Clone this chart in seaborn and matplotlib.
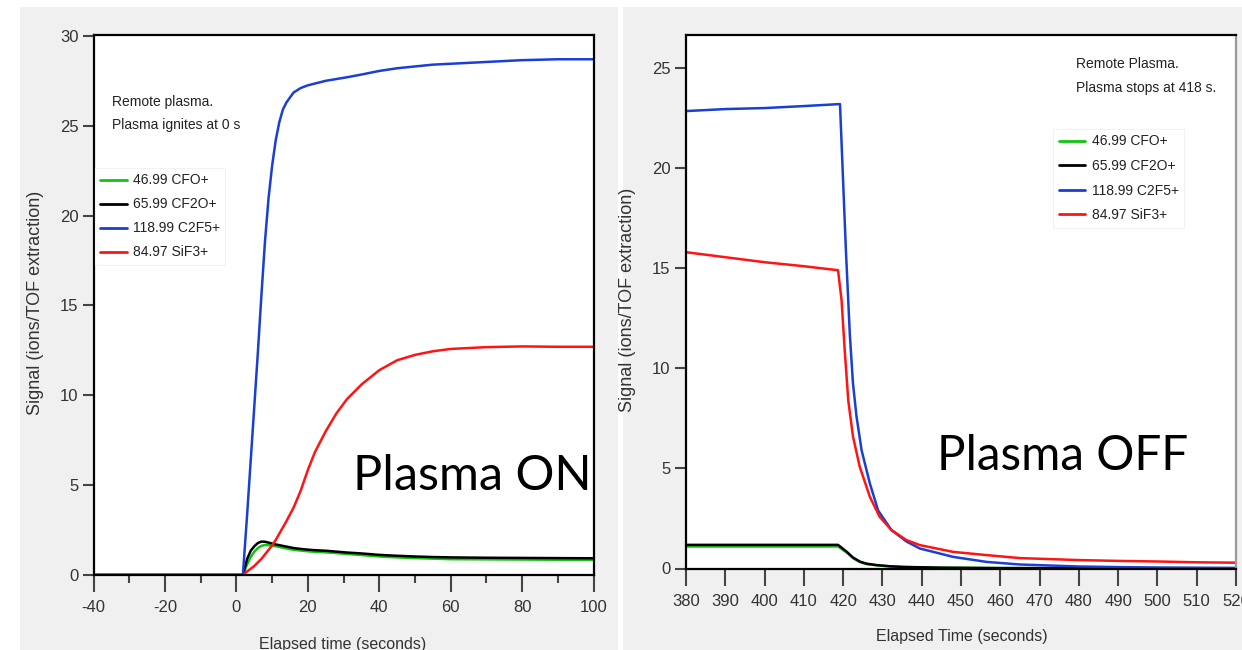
import numpy as np
import pandas as pd
import matplotlib
matplotlib.use("Agg")
import matplotlib.pyplot as plt
from matplotlib.patches import Rectangle
from matplotlib.ticker import MultipleLocator
from matplotlib.lines import Line2D
import seaborn as sns

# ---------------- data ----------------
labels = ["46.99 CFO+", "65.99 CF2O+", "118.99 C2F5+", "84.97 SiF3+"]
colors = ["#12c412", "#000000", "#1a3fd4", "#ff1414"]

# Left panel: plasma ignites at 0 s
t_on = [-40, 0, 1.8, 3, 4, 5, 6, 7, 8, 9, 10, 11, 12, 13, 14, 16, 18, 20, 22,
        25, 28, 31, 35, 40, 45, 50, 55, 60, 70, 80, 90, 100]
cfo_on = [0, 0, 0, 0.6, 1.0, 1.3, 1.5, 1.62, 1.67, 1.66, 1.63, 1.6, 1.56, 1.52,
          1.48, 1.4, 1.36, 1.32, 1.29, 1.26, 1.22, 1.17, 1.11, 1.03, 0.98, 0.94,
          0.91, 0.88, 0.87, 0.86, 0.85, 0.85]
cf2o_on = [0, 0, 0, 0.9, 1.35, 1.6, 1.78, 1.86, 1.85, 1.8, 1.75, 1.7, 1.66, 1.62,
           1.58, 1.5, 1.45, 1.41, 1.38, 1.35, 1.3, 1.25, 1.2, 1.12, 1.07, 1.03,
           1.0, 0.98, 0.96, 0.95, 0.94, 0.93]
c2f5_on = [0, 0, 0, 3.4, 6.4, 9.4, 12.4, 15.6, 18.6, 21.0, 22.8, 24.2, 25.2, 25.9,
           26.3, 26.85, 27.1, 27.25, 27.35, 27.5, 27.6, 27.7, 27.85, 28.05, 28.2,
           28.3, 28.4, 28.45, 28.55, 28.65, 28.7, 28.7]
sif3_on = [0, 0, 0, 0.2, 0.35, 0.5, 0.7, 0.9, 1.15, 1.4, 1.65, 1.95, 2.3, 2.65,
           3.0, 3.75, 4.7, 5.85, 6.85, 8.0, 9.0, 9.8, 10.6, 11.4, 11.95, 12.25,
           12.45, 12.58, 12.68, 12.72, 12.7, 12.7]

# Right panel: plasma stops at 418 s
t_off_small = [380, 400, 418.7, 420.9, 422.5, 424.3, 426, 428.5, 432, 435.2, 445, 460, 520]
cfo_off = [1.1, 1.1, 1.1, 0.8, 0.52, 0.32, 0.22, 0.16, 0.1, 0.07, 0.04, 0.02, 0.01]
cf2o_off = [1.18, 1.18, 1.18, 0.84, 0.55, 0.34, 0.24, 0.17, 0.11, 0.08, 0.04, 0.02, 0.01]
t_off_c2f5 = [380, 390, 400, 410, 419.2, 420.7, 421.7, 422.5, 423.4, 424.7, 426.8,
              428.9, 432.3, 436.1, 439.5, 448, 456.5, 465, 480, 490, 500, 510, 520]
c2f5_off = [22.85, 22.95, 23.0, 23.1, 23.2, 15.9, 11.7, 9.25, 7.6, 5.9, 4.25, 2.9,
            1.92, 1.35, 1.0, 0.58, 0.33, 0.2, 0.1, 0.07, 0.05, 0.04, 0.03]
t_off_sif3 = [380, 390, 400, 410, 418.7, 419.6, 420.4, 421.3, 422.5, 424.2, 426.8,
              429.3, 432.3, 436.1, 439.5, 448, 456.5, 465, 480, 490, 500, 510, 520]
sif3_off = [15.8, 15.55, 15.3, 15.1, 14.9, 13.4, 10.9, 8.4, 6.6, 5.1, 3.58, 2.58,
            1.92, 1.42, 1.17, 0.83, 0.67, 0.52, 0.42, 0.38, 0.35, 0.31, 0.29]

left_xticks = [-40, -20, 0, 20, 40, 60, 80, 100]
left_yticks = [0, 5, 10, 15, 20, 25, 30]
right_xticks = list(range(380, 521, 10))
right_yticks = [0, 5, 10, 15, 20, 25]

# ---------------- style ----------------
sns.set_style("ticks")
plt.rcParams["font.family"] = ["Liberation Sans", "DejaVu Sans"]
plt.rcParams["axes.unicode_minus"] = False

W, H = 1242, 650
fig = plt.figure(figsize=(W / 100, H / 100), dpi=100, facecolor="white")

# grey screenshot backgrounds
fig.patches.append(Rectangle((20 / W, 0), 598 / W, 643 / H, transform=fig.transFigure,
                             facecolor="#f0f0f0", edgecolor="none", zorder=-10))
fig.patches.append(Rectangle((623 / W, 0), 619 / W, 643 / H, transform=fig.transFigure,
                             facecolor="#f0f0f0", edgecolor="none", zorder=-10))

axL = fig.add_axes([93.6 / W, 75 / H, 500 / W, 540 / H])
axR = fig.add_axes([686 / W, 81.5 / H, 550 / W, 533.5 / H])


def draw(ax, t, y, color, label):
    df = pd.DataFrame({"t": t, "y": y})
    sns.lineplot(data=df, x="t", y="y", ax=ax, color=color, linewidth=1.8,
                 label=label, legend=False, estimator=None, sort=False)


for t, y, c, lab in zip([t_on] * 4, [cfo_on, cf2o_on, c2f5_on, sif3_on], colors, labels):
    draw(axL, t, y, c, lab)
for t, y, c, lab in zip([t_off_small, t_off_small, t_off_c2f5, t_off_sif3],
                        [cfo_off, cf2o_off, c2f5_off, sif3_off], colors, labels):
    draw(axR, t, y, c, lab)

tick_color = "#333333"
for ax in (axL, axR):
    ax.set_facecolor("white")
    for s in ax.spines.values():
        s.set_visible(True)
        s.set_color("black")
        s.set_linewidth(1.6)
    ax.tick_params(axis="y", which="major", length=8, width=1.5, color="#444444",
                   labelsize=12, labelcolor=tick_color, pad=3)
    ax.tick_params(axis="x", which="major", length=12, width=1.5, color="#444444",
                   labelsize=12, labelcolor=tick_color, pad=6)
    ax.tick_params(axis="x", which="minor", length=6, width=1.5, color="#444444")
axR.spines["right"].set_color("#999999")

axL.set_xlim(-40, 100)
axL.set_ylim(0, 30.05)
axL.set_xticks(left_xticks)
axL.set_yticks(left_yticks)
axL.xaxis.set_minor_locator(MultipleLocator(10))

axR.set_xlim(380, 520)
axR.set_ylim(0, 26.65)
axR.set_xticks(right_xticks)
axR.set_yticks(right_yticks)

ylab_font = dict(fontsize=13, color="#333333")
axL.set_ylabel("Signal (ions/TOF extraction)", **ylab_font)
axR.set_ylabel("Signal (ions/TOF extraction)", **ylab_font)
axL.yaxis.set_label_coords(-0.099, 0.504)
axR.yaxis.set_label_coords(-0.091, 0.503)

axL.set_xlabel("Elapsed time (seconds)", fontsize=11.5, color="#333333")
axR.set_xlabel("Elapsed Time (seconds)", fontsize=11.5, color="#333333")
axL.xaxis.set_label_coords(0.499, -0.1155)
axR.xaxis.set_label_coords(0.502, -0.113)

# annotations
ann = dict(fontsize=10, va="center", ha="left", color="#222222")
axL.text(0.037, 0.876, "Remote plasma.", transform=axL.transAxes, **ann)
axL.text(0.037, 0.834, "Plasma ignites at 0 s", transform=axL.transAxes, **ann)
axR.text(0.709, 0.9457, "Remote Plasma.", transform=axR.transAxes, **ann)
axR.text(0.709, 0.9007, "Plasma stops at 418 s.", transform=axR.transAxes, **ann)

big = dict(family=["Lato", "DejaVu Sans"], color="black", va="baseline", ha="left")
axL.text(0.519, 0.157, "Plasma ON", transform=axL.transAxes, fontsize=35, **big)
axR.text(0.456, 0.185, "Plasma OFF", transform=axR.transAxes, fontsize=34.3, **big)

# legends
def make_legend(ax, anchor, spacing):
    handles = [Line2D([], [], color=c, linewidth=2) for c in colors]
    leg = ax.legend(handles, labels, loc="upper left", bbox_to_anchor=anchor,
                    borderaxespad=0, fontsize=10, handlelength=1.9,
                    handletextpad=0.45, labelspacing=spacing, borderpad=0.4,
                    frameon=True, fancybox=False, framealpha=1)
    leg.get_frame().set_edgecolor("#f2f2f2")
    leg.get_frame().set_linewidth(0.8)
    for txt in leg.get_texts():
        txt.set_color("#222222")
    return leg

make_legend(axL, (0.002, 0.754), 0.72)
make_legend(axR, (0.668, 0.824), 0.76)

fig.savefig("out.png", dpi=100, facecolor="white")
